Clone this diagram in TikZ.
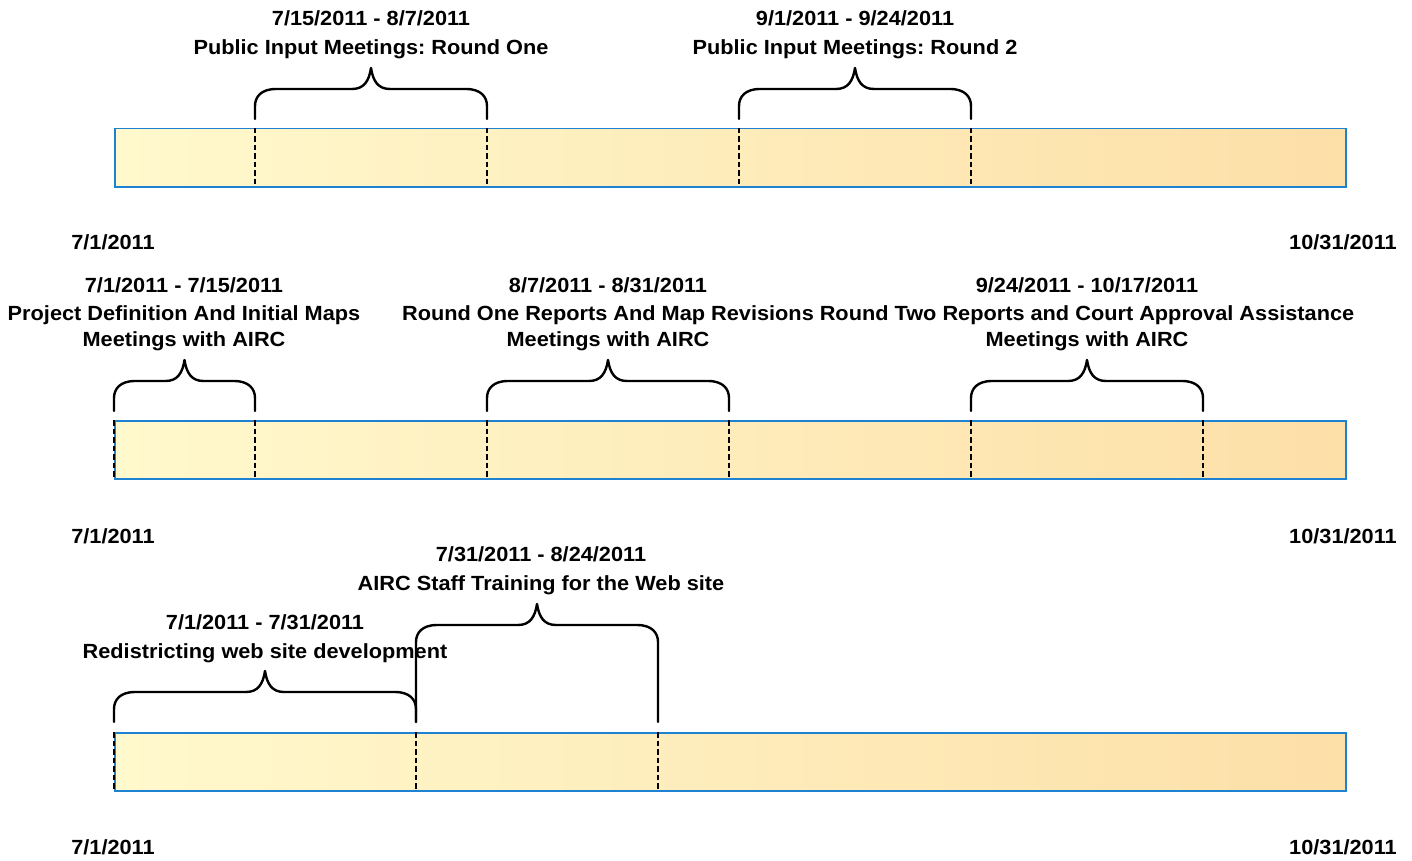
\documentclass[tikz,border=0pt]{standalone}
\usepackage{fontspec}
\setmainfont{Liberation Sans}[FakeStretch=1.06]
\frenchspacing
\tikzset{
  bar/.style={draw=barblue, line width=1.5pt, left color=barleft, right color=barright, shading angle=90},
  tick/.style={draw=black, line width=1.4pt, dash pattern=on 5.5pt off 3pt},
  bracestyle/.style={draw=black, line width=2.4pt, line cap=round, line join=round},
  lbl/.style={font=\fontsize{20.5}{24}\bfseries\selectfont, anchor=base, inner sep=0pt},
}
\definecolor{barblue}{RGB}{30,130,210}
\definecolor{barleft}{RGB}{255,249,205}
\definecolor{barright}{RGB}{253,223,168}
% #1 x-left, #2 x-right, #3 y-bottom, #4 y-top of vertical part, #5 y-horizontal
\newcommand\tlbrace[5]{%
  \draw[bracestyle] (#1,#3) -- (#1,#4)
    .. controls (#1,{#5+8}) and ({#1+6},#5) .. ({#1+21},#5)
    -- ({(#1+#2)/2-19},#5)
    .. controls ({(#1+#2)/2-7},#5) and ({(#1+#2)/2-2},{#5-8}) .. ({(#1+#2)/2},{#5-21})
    .. controls ({(#1+#2)/2+2},{#5-8}) and ({(#1+#2)/2+7},#5) .. ({(#1+#2)/2+19},#5)
    -- ({#2-21},#5)
    .. controls ({#2-6},#5) and (#2,{#5+8}) .. (#2,#4) -- (#2,#3);
}
\begin{document}
\begin{tikzpicture}[x=1pt,y=-1pt]
\path[fill=white] (0,0) rectangle (1412,861);
% ---------- timeline 1
\node[bar, rectangle, minimum width=1231pt, minimum height=58pt, anchor=north west, inner sep=0pt] (bar1) at (114,128) {};
\foreach \x in {255,487,739,971}{\draw[tick] (\x,128) -- (\x,186);}
\tlbrace{255}{487}{119}{106}{89}
\tlbrace{739}{971}{119}{106}{89}
\node[lbl] (t1a) at (371,25.5) {7/15/2011 - 8/7/2011};
\node[lbl] (t1b) at (371,54.5) {Public Input Meetings: Round One};
\node[lbl] (t2a) at (855,25.5) {9/1/2011 - 9/24/2011};
\node[lbl] (t2b) at (855,54.5) {Public Input Meetings: Round 2};
\node[lbl] (s1) at (113,249.5) {7/1/2011};
\node[lbl] (e1) at (1343,249.5) {10/31/2011};
% ---------- timeline 2
\node[bar, rectangle, minimum width=1231pt, minimum height=58pt, anchor=north west, inner sep=0pt] (bar2) at (114,420) {};
\foreach \x in {114,255,487,729,971,1203}{\draw[tick] (\x,420) -- (\x,478);}
\tlbrace{114}{255}{411}{398}{381}
\tlbrace{487}{729}{411}{398}{381}
\tlbrace{971}{1203}{411}{398}{381}
\node[lbl] (u1a) at (184,292.5) {7/1/2011 - 7/15/2011};
\node[lbl] (u1b) at (184,320.5) {Project Definition And Initial Maps};
\node[lbl] (u1c) at (184,346.5) {Meetings with AIRC};
\node[lbl] (u2a) at (608,292.5) {8/7/2011 - 8/31/2011};
\node[lbl] (u2b) at (608,320.5) {Round One Reports And Map Revisions};
\node[lbl] (u2c) at (608,346.5) {Meetings with AIRC};
\node[lbl] (u3a) at (1087,292.5) {9/24/2011 - 10/17/2011};
\node[lbl] (u3b) at (1087,320.5) {Round Two Reports and Court Approval Assistance};
\node[lbl] (u3c) at (1087,346.5) {Meetings with AIRC};
\node[lbl] (s2) at (113,543.5) {7/1/2011};
\node[lbl] (e2) at (1343,543.5) {10/31/2011};
% ---------- timeline 3
\node[bar, rectangle, minimum width=1231pt, minimum height=58pt, anchor=north west, inner sep=0pt] (bar3) at (114,732) {};
\foreach \x in {114,416,658}{\draw[tick] (\x,732) -- (\x,790);}
\tlbrace{114}{416}{722}{709}{692}
\tlbrace{416}{658}{722}{642}{625}
\node[lbl] (v2a) at (541,561.5) {7/31/2011 - 8/24/2011};
\node[lbl] (v2b) at (541,590.5) {AIRC Staff Training for the Web site};
\node[lbl] (v1a) at (265,629.5) {7/1/2011 - 7/31/2011};
\node[lbl] (v1b) at (265,658.5) {Redistricting web site development};
\node[lbl] (s3) at (113,854.5) {7/1/2011};
\node[lbl] (e3) at (1343,854.5) {10/31/2011};
\end{tikzpicture}
\end{document}
